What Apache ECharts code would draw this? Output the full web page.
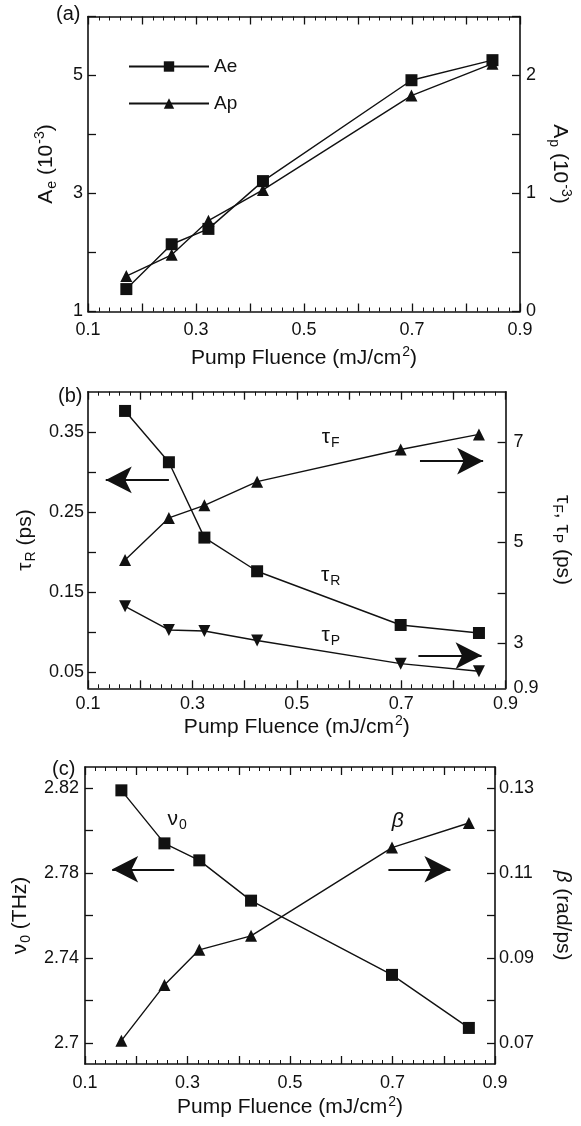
<!DOCTYPE html>
<html>
<head>
<meta charset="utf-8">
<script src="https://cdn.jsdelivr.net/npm/echarts@6/dist/echarts.min.js"></script>
<style>
  html, body { margin: 0; background: #fff; }
  #chart { width: 581px; height: 1126px; }
</style>
</head>
<body>
<div id="chart"></div>
<script>
// pump fluence (mJ/cm^2), shared by all three panels
const fluence = [0.171, 0.255, 0.323, 0.424, 0.699, 0.849];

// (a) amplitudes, 10^-3
const aeVals = [1.38, 2.14, 2.40, 3.21, 4.92, 5.26];
const apVals = [0.30, 0.48, 0.77, 1.03, 1.83, 2.10];

// (b) time constants, ps
const tauR = [0.376, 0.312, 0.218, 0.176, 0.109, 0.099];
const tauF = [4.65, 5.49, 5.74, 6.21, 6.85, 7.15];
const tauP = [3.73, 3.26, 3.24, 3.05, 2.59, 2.44];

// (c) frequency (THz) and damping (rad/ps)
const nu0 = [2.819, 2.794, 2.786, 2.767, 2.732, 2.707];
const beta = [0.0705, 0.0836, 0.0919, 0.0952, 0.1160, 0.1218];

// tick label values
const xLabels = [0.1, 0.3, 0.5, 0.7, 0.9];
const aeTicks = [1, 3, 5];
const apTicks = [0, 1, 2];
const tauRTicks = [0.05, 0.15, 0.25, 0.35];
const tauFTicks = [2.1, 3, 5, 7];
const nuTicks = [2.70, 2.74, 2.78, 2.82];
const betaTicks = [0.07, 0.09, 0.11, 0.13];

const INK = '#111';
const FONT = '"Liberation Sans", Arial, sans-serif';

const rich = {
  n: { fontSize: 21, color: INK, fontFamily: FONT },
  i: { fontSize: 21, color: INK, fontFamily: FONT, fontStyle: 'italic' },
  sub: { fontSize: 14, color: INK, fontFamily: FONT, padding: [12, 0, 0, 1] },
  sup: { fontSize: 14, color: INK, fontFamily: FONT, padding: [0, 0, 11, 1] }
};

const steps = (a, b, s) => {
  const out = [];
  for (let v = a; v <= b + s / 2; v += s) out.push(+v.toFixed(4));
  return out;
};

const fluenceName = '{n|Pump Fluence (mJ/cm}{sup|2}{n|)}';

function xPair(grid, margin, gap) {
  const base = {
    type: 'value', gridIndex: grid, min: 0.1, max: 0.9, interval: 0.1,
    axisLine: { onZero: false, lineStyle: { color: INK, width: 1.6 } },
    axisTick: { inside: true, length: 8, lineStyle: { color: INK, width: 1.3 } },
    minorTick: { show: true, splitNumber: 5, length: 4, lineStyle: { color: INK, width: 1 } },
    splitLine: { show: false }
  };
  return [
    Object.assign({}, base, {
      position: 'bottom',
      axisLabel: {
        margin, fontSize: 18, color: INK, fontFamily: FONT,
        formatter: v => xLabels.some(t => Math.abs(t - v) < 1e-6) ? v.toFixed(1) : ''
      },
      name: fluenceName, nameLocation: 'middle', nameGap: gap,
      nameTextStyle: { rich }
    }),
    Object.assign({}, base, { position: 'top', axisLabel: { show: false } })
  ];
}

function yAxis(o) {
  return {
    type: 'value', gridIndex: o.grid, position: o.pos, min: o.min, max: o.max,
    interval: o.interval,
    axisLine: { onZero: false, lineStyle: { color: INK, width: 1.6 } },
    axisTick: Object.assign({ inside: true, length: 8, lineStyle: { color: INK, width: 1.3 } },
      o.ticks ? { customValues: o.ticks } : {}),
    splitLine: { show: false },
    axisLabel: Object.assign({
      margin: o.margin, fontSize: 18, color: INK, fontFamily: FONT,
      formatter: o.fmt || (v => String(v))
    }, o.labels ? { customValues: o.labels } : {}),
    name: o.name, nameLocation: 'middle', nameGap: o.gap,
    nameRotate: o.pos === 'left' ? 90 : -90,
    nameTextStyle: { rich }
  };
}

function line(name, xi, yi, vals, symbol, extra) {
  return Object.assign({
    type: 'line', name, xAxisIndex: xi, yAxisIndex: yi,
    data: fluence.map((x, i) => [x, vals[i]]),
    symbol, symbolSize: 12, showSymbol: true,
    lineStyle: { color: INK, width: 1.4 },
    itemStyle: { color: INK },
    animation: false
  }, extra || {});
}

function arrow(x1, x2, y) {
  return {
    silent: true, symbol: ['none', 'arrow'], symbolSize: [20, 26],
    lineStyle: { color: INK, width: 2, type: 'solid' },
    label: { show: false },
    data: [[{ coord: [x1, y] }, { coord: [x2, y] }]]
  };
}

function note(x, y, text) {
  return {
    silent: true, symbol: 'circle', symbolSize: 0,
    label: { show: true, position: 'inside', formatter: text, rich },
    data: [{ coord: [x, y] }]
  };
}

const option = {
  backgroundColor: '#fff',
  animation: false,
  grid: [
    { left: 88, right: 61, top: 16.5, height: 295 },
    { left: 88, right: 61, top: 391.7, height: 296.6 },
    { left: 85, right: 66, top: 767, height: 297 }
  ],
  legend: {
    data: ['Ae', 'Ap'], orient: 'vertical', left: 123, top: 52,
    itemWidth: 80, itemHeight: 13, itemGap: 18,
    textStyle: { fontSize: 19, color: INK, fontFamily: FONT }
  },
  xAxis: [].concat(xPair(0, 10, 34), xPair(1, 7, 26), xPair(2, 10, 31)),
  yAxis: [
    yAxis({ grid: 0, pos: 'left', min: 1, max: 6, interval: 1, margin: 5, gap: 29,
      fmt: v => aeTicks.includes(v) ? String(v) : '',
      name: '{n|A}{sub|e}{n| (10}{sup|-3}{n|)}' }),
    yAxis({ grid: 0, pos: 'right', min: 0, max: 2.5, interval: 0.5, margin: 6, gap: 24,
      fmt: v => apTicks.includes(v) ? String(v) : '',
      name: '{n|A}{sub|p}{n| (10}{sup|-3}{n|)}' }),
    yAxis({ grid: 1, pos: 'left', min: 0.03, max: 0.40, margin: 4, gap: 40,
      ticks: steps(0.05, 0.35, 0.05), labels: tauRTicks,
      fmt: v => v.toFixed(2), name: '{n|τ}{sub|R}{n| (ps)}' }),
    yAxis({ grid: 1, pos: 'right', min: 2.1, max: 8.0, margin: 8, gap: 31,
      ticks: [3, 4, 5, 6, 7], labels: tauFTicks,
      fmt: v => v < 2.5 ? '0.9' : String(v),
      name: '{n|τ}{sub|F}{n|, τ}{sub|P}{n| (ps)}' }),
    yAxis({ grid: 2, pos: 'left', min: 2.69, max: 2.83, margin: 6, gap: 46,
      ticks: steps(2.70, 2.82, 0.02), labels: nuTicks,
      fmt: v => String(+v.toFixed(2)), name: '{n|ν}{sub|0}{n| (THz)}' }),
    yAxis({ grid: 2, pos: 'right', min: 0.065, max: 0.135, margin: 4, gap: 57,
      ticks: steps(0.07, 0.13, 0.01), labels: betaTicks,
      fmt: v => v.toFixed(2), name: '{i|β}{n| (rad/ps)}' })
  ],
  series: [
    line('Ae', 0, 0, aeVals, 'rect'),
    line('Ap', 0, 1, apVals, 'triangle'),
    line('τR', 2, 2, tauR, 'rect', {
      markLine: arrow(0.255, 0.134, 0.29),
      markPoint: note(0.565, 0.171, '{n|τ}{sub|R}')
    }),
    line('τF', 2, 3, tauF, 'triangle', {
      markLine: arrow(0.736, 0.857, 6.62),
      markPoint: note(0.565, 7.1, '{n|τ}{sub|F}')
    }),
    line('τP', 2, 3, tauP, 'triangle', {
      symbolRotate: 180,
      markLine: arrow(0.733, 0.854, 2.75),
      markPoint: note(0.565, 3.165, '{n|τ}{sub|P}')
    }),
    line('ν0', 4, 4, nu0, 'rect', {
      markLine: arrow(0.274, 0.153, 2.7818),
      markPoint: note(0.28, 2.8054, '{n|ν}{sub|0}')
    }),
    line('β', 4, 5, beta, 'triangle', {
      markLine: arrow(0.692, 0.813, 0.1109),
      markPoint: note(0.71, 0.1222, '{i|β}')
    })
  ],
  graphic: [
    { type: 'text', left: 56, top: 4, style: { text: '(a)', fontSize: 20, fill: INK, fontFamily: FONT } },
    { type: 'text', left: 58, top: 386, style: { text: '(b)', fontSize: 20, fill: INK, fontFamily: FONT } },
    { type: 'text', left: 52, top: 759, style: { text: '(c)', fontSize: 20, fill: INK, fontFamily: FONT } }
  ]
};

const chart = echarts.init(document.getElementById('chart'), null, { renderer: 'canvas' });
chart.setOption(option);
window.addEventListener('resize', () => chart.resize());
</script>
</body>
</html>
